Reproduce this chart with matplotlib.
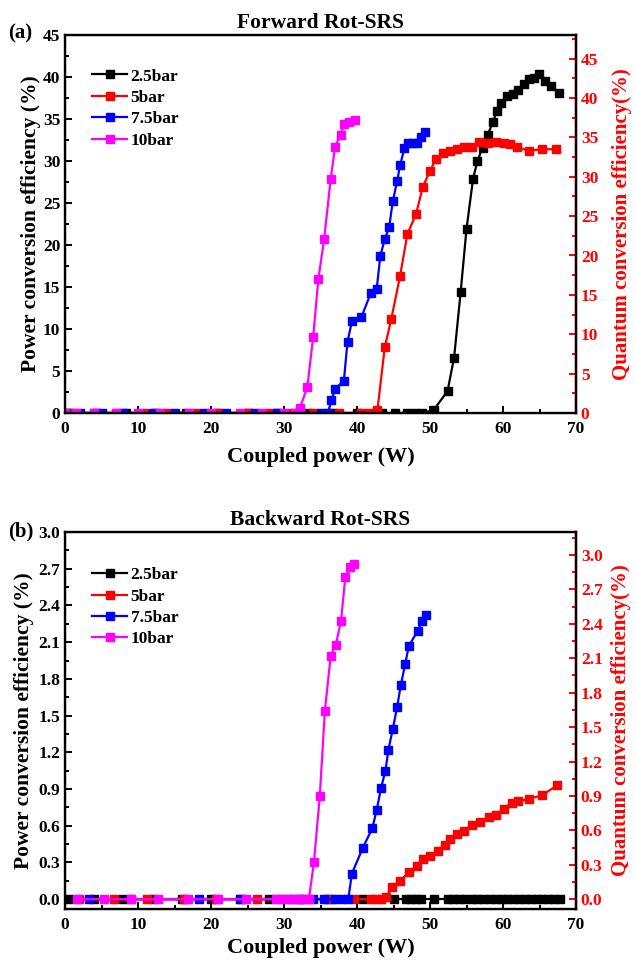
import matplotlib
matplotlib.use("Agg")
import matplotlib.pyplot as plt
from matplotlib.ticker import MultipleLocator

plt.rcParams['font.family'] = ['Liberation Serif', 'DejaVu Serif']
plt.rcParams['font.weight'] = 'bold'

labels = ["2.5bar", "5bar", "7.5bar", "10bar"]
colors = ["black", "red", "blue", "magenta"]

# ---------------- Forward Rot-SRS (a) ----------------
fw_x_25 = [0.5, 4.2, 8.3, 12.5, 16.6, 20.8, 25.0, 29.1, 33.3, 36.7, 40.0, 43.4, 45.2, 46.8, 47.9, 48.9,
           50.5, 52.4, 53.3, 54.2, 55.0, 55.9, 56.5, 57.2, 57.9, 58.6, 59.2, 59.7, 60.6, 61.4, 62.1,
           62.9, 63.6, 64.3, 64.9, 65.7, 66.6, 67.7]
fw_y_25 = [0, 0, 0, 0, 0, 0, 0, 0, 0, 0, 0, 0, 0, 0, 0, 0,
           0.36, 2.6, 6.6, 14.4, 21.9, 27.9, 30.0, 31.6, 33.1, 34.6, 36.0, 36.9, 37.7, 38.0, 38.5,
           39.2, 39.8, 39.9, 40.3, 39.5, 38.9, 38.1]

fw_x_5 = [1.0, 4.0, 7.0, 11.0, 14.0, 18.0, 21.0, 25.0, 28.0, 31.0, 34.0, 37.5, 40.6, 41.7,
          42.8, 43.8, 44.7, 45.9, 46.9, 48.1, 49.0, 50.0, 50.8, 51.8, 52.7, 53.7, 54.6, 55.7,
          56.7, 57.9, 59.1, 60.1, 61.0, 61.9, 63.5, 65.3, 67.3]
fw_y_5 = [0, 0, 0, 0, 0, 0, 0, 0, 0, 0, 0, 0, 0, 0,
          0.36, 7.8, 11.2, 16.3, 21.3, 23.7, 26.9, 28.8, 30.2, 30.9, 31.2, 31.4, 31.7, 31.7,
          32.3, 32.1, 32.3, 32.2, 32.0, 31.7, 31.2, 31.4, 31.4]

fw_x_75 = [0.2, 2.0, 5.0, 8.0, 12.0, 15.0, 19.0, 22.0, 26.0, 29.0, 32.0, 35.0, 36.0,
           36.5, 37.0, 38.2, 38.7, 39.3, 40.6, 41.9, 42.7, 43.2, 43.8, 44.4, 44.9, 45.5, 45.9,
           46.5, 47.0, 47.6, 48.2, 48.7, 49.3]
fw_y_75 = [0, 0, 0, 0, 0, 0, 0, 0, 0, 0, 0, 0, 0,
           1.5, 2.9, 3.8, 8.5, 10.9, 11.4, 14.3, 14.8, 18.7, 20.7, 22.1, 25.2, 27.6, 29.5,
           31.5, 32.1, 32.1, 32.1, 32.8, 33.5]

fw_x_10 = [0.0, 1.5, 4.0, 7.0, 10.0, 13.0, 17.0, 20.0, 24.0, 27.0, 30.0, 31.5,
           32.2, 33.2, 34.0, 34.7, 35.5, 36.4, 37.0, 37.75, 38.2, 38.9, 39.7]
fw_y_10 = [0, 0, 0, 0, 0, 0, 0, 0, 0, 0, 0, 0,
           0.63, 3.1, 9.1, 15.9, 20.7, 27.9, 31.7, 33.1, 34.4, 34.7, 34.9]

# ---------------- Backward Rot-SRS (b) ----------------
bw_x_25 = [0.5, 4.0, 8.0, 12.0, 16.0, 20.0, 24.0, 28.0, 32.0, 36.0, 40.8, 45.1, 46.7, 47.4, 48.1,
           48.8, 50.6, 52.4, 53.2, 54.0, 54.8, 55.7, 56.5, 57.3, 58.2, 59.0, 59.8, 60.6, 61.4,
           62.2, 63.0, 63.8, 64.6, 65.4, 66.2, 67.0, 67.8]
bw_y_25 = [0.0] * 37

bw_x_5 = [1.9, 6.7, 11.2, 16.3, 20.7, 26.3, 36.4, 39.6, 41.9, 42.6, 43.3, 44.0,
          44.8, 45.9, 47.1, 48.2, 49.1, 50.0, 51.1, 52.0, 52.8, 53.7, 54.7, 55.8, 56.9,
          58.1, 59.1, 60.1, 61.2, 62.1, 63.6, 65.4, 67.4]
bw_y_5 = [0, 0, 0, 0, 0, 0, 0, 0, 0, 0, 0, 0.02,
          0.10, 0.15, 0.22, 0.27, 0.33, 0.35, 0.39, 0.44, 0.49, 0.53, 0.56, 0.61, 0.63,
          0.67, 0.69, 0.74, 0.79, 0.80, 0.82, 0.85, 0.93]

bw_x_75 = [3.3, 9.0, 18.4, 24.1, 29.5, 31.0, 32.5, 34.0, 35.5, 37.0, 38.0, 38.8,
           39.3, 40.8, 42.1, 42.7, 43.3, 43.9, 44.3, 44.9, 45.5, 46.0, 46.6, 47.1, 48.3,
           48.9, 49.4]
bw_y_75 = [0, 0, 0, 0, 0, 0, 0, 0, 0, 0, 0, 0,
           0.21, 0.42, 0.58, 0.73, 0.91, 1.05, 1.22, 1.39, 1.57, 1.75, 1.92, 2.07, 2.19,
           2.27, 2.32]

bw_x_10 = [1.6, 5.3, 9.0, 12.7, 16.8, 20.9, 24.8, 28.9, 29.8, 30.6, 31.4, 32.2, 33.0, 33.4,
           34.1, 34.9, 35.6, 36.4, 37.1, 37.8, 38.4, 39.0, 39.6]
bw_y_10 = [0, 0, 0, 0, 0, 0, 0, 0, 0, 0, 0, 0, 0, 0,
           0.30, 0.84, 1.54, 1.99, 2.08, 2.27, 2.63, 2.71, 2.74]

fw_series = [(fw_x_25, fw_y_25), (fw_x_5, fw_y_5), (fw_x_75, fw_y_75), (fw_x_10, fw_y_10)]
bw_series = [(bw_x_25, bw_y_25), (bw_x_5, bw_y_5), (bw_x_75, bw_y_75), (bw_x_10, bw_y_10)]

fig = plt.figure(figsize=(6.36, 9.66), dpi=100)

W, H = 636.0, 966.0
def pos(l, t, r, b):
    return [l / W, 1 - b / H, (r - l) / W, (b - t) / H]

tick_fs = 12.5
lab_fs = 15.5
spine_w = 1.7


def style_axes(ax, axr, ylim_l, ylim_r, lmaj, lmin, rmaj, rmin, fmt):
    for s in ax.spines.values():
        s.set_linewidth(spine_w)
    ax.set_xlim(0, 70)
    ax.set_ylim(*ylim_l)
    ax.xaxis.set_major_locator(MultipleLocator(10))
    ax.xaxis.set_minor_locator(MultipleLocator(5))
    ax.yaxis.set_major_locator(MultipleLocator(lmaj))
    ax.yaxis.set_minor_locator(MultipleLocator(lmin))
    ax.tick_params(which='both', direction='in', top=False, right=False, width=1.4,
                   labelsize=tick_fs)
    ax.tick_params(which='major', length=5)
    ax.tick_params(which='minor', length=3)
    ax.tick_params(axis='x', pad=6)
    if fmt:
        ax.yaxis.set_major_formatter(plt.FormatStrFormatter(fmt))
    for t in ax.get_xticklabels() + ax.get_yticklabels():
        t.set_fontweight('bold')

    axr.set_ylim(*ylim_r)
    axr.yaxis.set_major_locator(MultipleLocator(rmaj))
    axr.yaxis.set_minor_locator(MultipleLocator(rmin))
    if fmt:
        axr.yaxis.set_major_formatter(plt.FormatStrFormatter(fmt))
    axr.spines['right'].set_color('red')
    axr.spines['right'].set_linewidth(spine_w)
    axr.tick_params(axis='y', which='both', direction='in', colors='red', width=1.4,
                    labelsize=tick_fs)
    axr.tick_params(axis='y', which='major', length=5)
    axr.tick_params(axis='y', which='minor', length=3)
    for t in axr.get_yticklabels():
        t.set_fontweight('bold')
        t.set_color('red')


def draw(ax, series):
    for (x, y), c, lab in zip(series, colors, labels):
        ax.plot(x, y, '-', color=c, marker='s', markersize=6, linewidth=1.6, label=lab)


# Panel (a)
ax1 = fig.add_axes(pos(65, 35, 576, 413))
ax1r = ax1.twinx()
draw(ax1, fw_series)
style_axes(ax1, ax1r, (0, 45), (0, 48), 5, 2.5, 5, 2.5, None)
ax1.set_zorder(ax1r.get_zorder() + 1)
ax1.patch.set_visible(False)
ax1.set_ylabel("Power conversion efficiency (%)", fontsize=lab_fs, fontweight='bold', labelpad=1)
ax1r.set_ylabel("Quantum conversion efficiency(%)", fontsize=15, fontweight='bold',
                color='red', rotation=90, labelpad=10)
ax1.set_xlabel("Coupled power (W)", fontsize=16, fontweight='bold', labelpad=7)
ax1.set_title("Forward Rot-SRS", fontsize=15.5, fontweight='bold', pad=5)
ax1.legend(loc='upper left', bbox_to_anchor=(0.04, 0.93), frameon=False,
           prop={'weight': 'bold', 'size': 12.5}, handlelength=2.0, handletextpad=0.2,
           labelspacing=0.3, borderaxespad=0)
fig.text(8 / W, 1 - 33 / H, "(a)", fontsize=15, fontweight='bold', va='center', ha='left')

# Panel (b)
ax2 = fig.add_axes(pos(65, 532, 576, 909))
ax2r = ax2.twinx()
draw(ax2, bw_series)
style_axes(ax2, ax2r, (-0.08, 3.0), (-0.085, 3.2), 0.3, 0.15, 0.3, 0.15, '%.1f')
ax2.set_zorder(ax2r.get_zorder() + 1)
ax2.patch.set_visible(False)
ax2.set_ylabel("Power conversion efficiency (%)", fontsize=lab_fs, fontweight='bold', labelpad=3)
ax2r.set_ylabel("Quantum conversion efficiency(%)", fontsize=15, fontweight='bold',
                color='red', rotation=90, labelpad=6)
ax2.set_xlabel("Coupled power (W)", fontsize=16, fontweight='bold', labelpad=3)
ax2.set_title("Backward Rot-SRS", fontsize=15.5, fontweight='bold', pad=5)
ax2.legend(loc='upper left', bbox_to_anchor=(0.04, 0.925), frameon=False,
           prop={'weight': 'bold', 'size': 12.5}, handlelength=2.0, handletextpad=0.2,
           labelspacing=0.3, borderaxespad=0)
fig.text(8 / W, 1 - 531 / H, "(b)", fontsize=15, fontweight='bold', va='center', ha='left')

fig.savefig("out.png", dpi=100)
